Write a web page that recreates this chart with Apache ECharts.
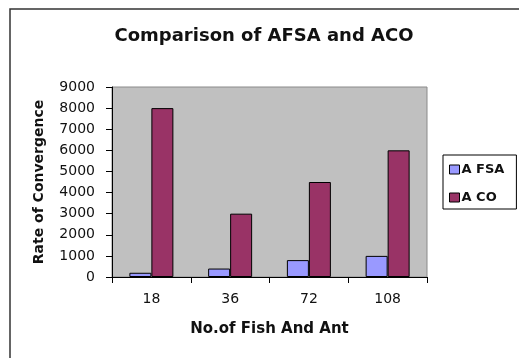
<!DOCTYPE html>
<html>
<head>
<meta charset="utf-8">
<script src="https://cdn.jsdelivr.net/npm/echarts@6/dist/echarts.min.js"></script>
<style>
  html, body { margin: 0; padding: 0; background: #fff; }
  #chart { width: 519px; height: 358px; }
</style>
</head>
<body>
<div id="chart"></div>
<script>
// Population sizes compared
const categories = ['18', '36', '72', '108'];
// Rate of convergence per algorithm
const afsaValues = [200, 400, 800, 1000];
const acoValues = [8000, 3000, 4500, 6000];
const seriesNames = ['A FSA', 'A CO'];
const yTicks = { min: 0, max: 9000, interval: 1000 };

const FONT = 'DejaVu Sans';
const chart = echarts.init(document.getElementById('chart'));

chart.setOption({
  animation: false,
  backgroundColor: '#ffffff',
  graphic: [
    {
      type: 'rect',
      shape: { x: 10, y: 9, width: 700, height: 500 },
      style: { fill: 'none', stroke: '#333', lineWidth: 1.5 },
      z: -1
    },
    {
      type: 'text',
      x: 264, y: 36,
      style: {
        text: 'Comparison of AFSA and ACO',
        font: 'bold 18px "DejaVu Sans"',
        fill: '#111',
        textAlign: 'center',
        textVerticalAlign: 'middle'
      }
    }
  ],
  grid: {
    left: 112, top: 87, right: 92, bottom: 81,
    show: true,
    backgroundColor: '#c0c0c0',
    borderColor: '#8a8a8a',
    borderWidth: 1
  },
  legend: {
    orient: 'vertical',
    left: 443, top: 155,
    padding: [8, 12, 5, 6],
    itemGap: 15,
    itemWidth: 10,
    itemHeight: 9,
    borderColor: '#000',
    borderWidth: 1,
    icon: 'rect',
    itemStyle: { borderColor: '#000', borderWidth: 1 },
    textStyle: { fontFamily: FONT, fontWeight: 'bold', fontSize: 13, color: '#111', padding: [0, 0, 0, -3] },
    data: seriesNames
  },
  xAxis: {
    type: 'category',
    data: categories,
    name: 'No.of Fish And Ant',
    nameLocation: 'middle',
    nameGap: 45,
    nameTextStyle: { fontFamily: FONT, fontWeight: 'bold', fontSize: 15, color: '#111' },
    axisLine: { lineStyle: { color: '#000', width: 1 } },
    axisTick: { show: true, length: 6, lineStyle: { color: '#000' } },
    axisLabel: { fontFamily: FONT, fontSize: 14, color: '#111', margin: 15 },
    splitLine: { show: false }
  },
  yAxis: {
    type: 'value',
    min: yTicks.min, max: yTicks.max, interval: yTicks.interval,
    name: 'Rate of Convergence',
    nameLocation: 'middle',
    nameGap: 66,
    nameTextStyle: { fontFamily: FONT, fontWeight: 'bold', fontSize: 14, color: '#111' },
    axisLine: { show: true, lineStyle: { color: '#000', width: 1 } },
    axisTick: { show: true, length: 6, lineStyle: { color: '#000' } },
    axisLabel: {
      fontFamily: FONT, fontSize: 14, color: '#111', margin: 17,
      formatter: v => String(v)
    },
    splitLine: { show: false }
  },
  series: [
    {
      name: seriesNames[0],
      type: 'bar',
      data: afsaValues,
      barWidth: 22,
      barGap: '0%',
      itemStyle: { color: '#9999ff', borderColor: '#000', borderWidth: 1 }
    },
    {
      name: seriesNames[1],
      type: 'bar',
      data: acoValues,
      barWidth: 22,
      barGap: '0%',
      itemStyle: { color: '#993366', borderColor: '#000', borderWidth: 1 }
    }
  ]
});
</script>
</body>
</html>
